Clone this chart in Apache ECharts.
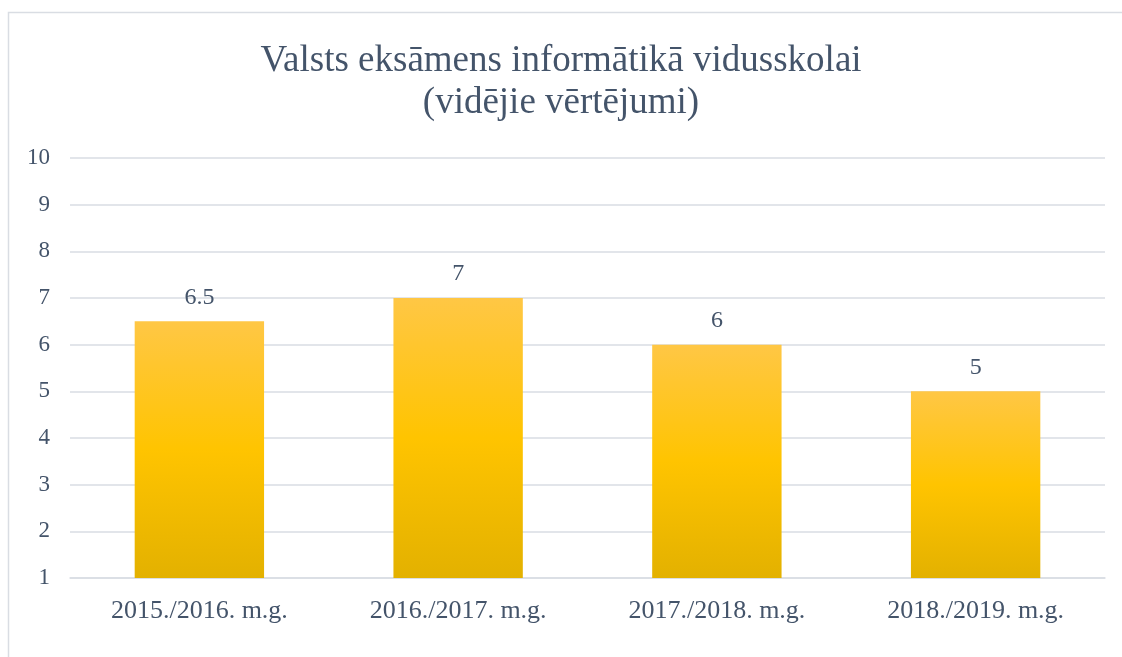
<!DOCTYPE html>
<html>
<head>
    <meta charset="UTF-8">
    <script src="https://cdn.jsdelivr.net/npm/echarts@6/dist/echarts.min.js"></script>
    <style>
        html, body { margin: 0; padding: 0; background: #ffffff; }
        #main { width: 1122px; height: 657px; }
    </style>
</head>
<body>
<div id="main"></div>
<script type="text/javascript">
    var years = ['2015./2016. m.g.', '2016./2017. m.g.', '2017./2018. m.g.', '2018./2019. m.g.'];
    var scores = [6.5, 7, 6, 5];
    var yTicks = [1, 2, 3, 4, 5, 6, 7, 8, 9, 10];

    var textColor = '#44546A';
    var font = '"Liberation Serif", "Times New Roman", serif';

    var myChart = echarts.init(document.getElementById('main'));

    var option = {
        backgroundColor: '#ffffff',
        graphic: [
            {
                type: 'rect',
                shape: {x: 8.5, y: 12.5, width: 1200, height: 700},
                style: {fill: 'none', stroke: '#D9DDE3', lineWidth: 1.5},
                silent: true
            }
        ],
        title: {
            text: 'Valsts eksāmens informātikā vidusskolai\n(vidējie vērtējumi)',
            left: 'center',
            top: 35,
            textStyle: {
                fontFamily: font,
                fontWeight: 'normal',
                fontSize: 37,
                lineHeight: 42,
                color: textColor
            }
        },
        grid: {
            left: 70,
            right: 17,
            top: 158,
            bottom: 79
        },
        xAxis: {
            type: 'category',
            data: years,
            axisTick: {show: false},
            axisLine: {lineStyle: {color: '#D9DDE3', width: 1.5}},
            axisLabel: {
                color: textColor,
                fontFamily: font,
                fontSize: 26,
                margin: 20
            }
        },
        yAxis: {
            type: 'value',
            min: yTicks[0],
            max: yTicks[yTicks.length - 1],
            interval: 1,
            axisLine: {show: false},
            axisTick: {show: false},
            axisLabel: {
                color: textColor,
                fontFamily: font,
                fontSize: 23,
                margin: 20
            },
            splitLine: {lineStyle: {color: '#D9DDE3', width: 1.5}}
        },
        series: [
            {
                type: 'bar',
                data: scores,
                barWidth: '50%',
                itemStyle: {
                    color: new echarts.graphic.LinearGradient(0, 0, 0, 1, [
                        {offset: 0, color: '#FFC745'},
                        {offset: 0.5, color: '#FFC400'},
                        {offset: 1, color: '#E3B100'}
                    ])
                },
                label: {
                    show: true,
                    position: 'top',
                    distance: 12,
                    color: textColor,
                    fontFamily: font,
                    fontSize: 24
                }
            }
        ]
    };

    myChart.setOption(option);
</script>
</body>
</html>
